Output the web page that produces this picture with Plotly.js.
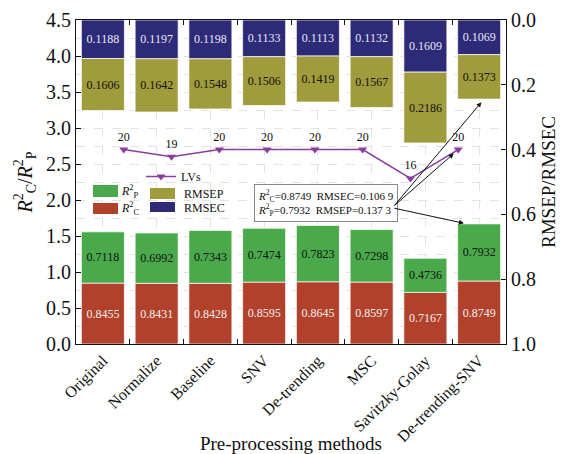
<!DOCTYPE html>
<html><head><meta charset="utf-8">
<script src="https://cdn.plot.ly/plotly-3.0.1.min.js"></script>
<style>html,body{margin:0;padding:0;background:#fff}#chart{width:564px;height:454px}</style>
</head><body><div id="chart"></div>
<script>
const methods = ['Original','Normalize','Baseline','SNV','De-trending','MSC','Savitzky-Golay','De-trending-SNV'];
const r2c = [0.8455,0.8431,0.8428,0.8595,0.8645,0.8597,0.7167,0.8749];
const r2p = [0.7118,0.6992,0.7343,0.7474,0.7823,0.7298,0.4736,0.7932];
const rmsec = [0.1188,0.1197,0.1198,0.1133,0.1113,0.1132,0.1609,0.1069];
const rmsep = [0.1606,0.1642,0.1548,0.1506,0.1419,0.1567,0.2186,0.1373];
const lvs = [20,19,20,20,20,20,16,20];

const FONT = 'Liberation Serif, Times New Roman, serif';
const C_RED = '#b1412b', C_GREEN = '#4aa94b', C_NAVY = '#2d2a78', C_OLIVE = '#a09b3c', C_PURPLE = '#8c3c9e';
const fmt = v => v.toFixed(4);
const edge = {color: 'rgba(255,255,255,0.7)', width: 1};

const traces = [
  {type:'bar', x: methods, y: r2c, xaxis:'x', yaxis:'y', marker:{color:C_RED, line:edge},
   text: r2c.map(fmt), textposition:'inside', insidetextanchor:'middle', textangle:0,
   textfont:{family:FONT, size:12, color:'#f4f0ee'}, showlegend:false, hoverinfo:'skip'},
  {type:'bar', x: methods, y: r2p, base: r2c, xaxis:'x', yaxis:'y', marker:{color:C_GREEN, line:edge},
   text: r2p.map(fmt), textposition:'inside', insidetextanchor:'middle', textangle:0,
   textfont:{family:FONT, size:12, color:'#111'}, showlegend:false, hoverinfo:'skip'},
  {type:'bar', x: methods, y: rmsec, base: rmsec.map(()=>0), xaxis:'x3', yaxis:'y2', marker:{color:C_NAVY, line:edge},
   text: rmsec.map(fmt), textposition:'inside', insidetextanchor:'middle', textangle:0,
   textfont:{family:FONT, size:12, color:'#e8e8f0'}, showlegend:false, hoverinfo:'skip'},
  {type:'bar', x: methods, y: rmsep, base: rmsec, xaxis:'x3', yaxis:'y2', marker:{color:C_OLIVE, line:edge},
   text: rmsep.map(fmt), textposition:'inside', insidetextanchor:'middle', textangle:0,
   textfont:{family:FONT, size:12, color:'#111'}, showlegend:false, hoverinfo:'skip'},
  {type:'scatter', x: lvs.map((_,i)=>i+1), y: lvs, xaxis:'x2', yaxis:'y3', name:'LVs',
   mode:'lines+markers+text', text: lvs.map(String), textposition:'top center',
   textfont:{family:FONT, size:12, color:'#111'},
   line:{color:C_PURPLE, width:1.5}, marker:{symbol:'triangle-down', size:8, color:C_PURPLE},
   showlegend:true, hoverinfo:'skip'}
];

const last = methods.length - 1;
const px2x = p => (p-76)/430, px2y = p => (344-p)/324;
const swatches = [
  {c:C_GREEN, x0:93, x1:118, y0:185, y1:197},
  {c:C_RED, x0:93, x1:118, y0:203, y1:214},
  {c:C_OLIVE, x0:150, x1:175, y0:188, y1:199},
  {c:C_NAVY, x0:150, x1:175, y0:202, y1:212}
];
const shapes = swatches.map(s => ({type:'rect', xref:'paper', yref:'paper',
  x0:px2x(s.x0), x1:px2x(s.x1), y0:px2y(s.y1), y1:px2y(s.y0), fillcolor:s.c, line:{width:0}}));

const legTxt = (t, px, py) => ({xref:'paper', yref:'paper', x:px2x(px), y:px2y(py), xanchor:'left', yanchor:'middle',
  text:t, showarrow:false, font:{family:FONT, size:12, color:'#111'}});

const annotations = [
  legTxt('<i>R</i><sup>2</sup><sub>P</sub>', 119, 191),
  legTxt('<i>R</i><sup>2</sup><sub>C</sub>', 119, 209),
  legTxt('RMSEP', 182, 194),
  legTxt('RMSEC', 182, 208),
  {xref:'paper', yref:'paper', x:px2x(326), y:px2y(203), xanchor:'center', yanchor:'middle', showarrow:false,
   text:'<i>R</i><sup>2</sup><sub>C</sub>=' + fmt(r2c[last]) + '&nbsp; RMSEC=0.106 9<br><i>R</i><sup>2</sup><sub>P</sub>=' + fmt(r2p[last]) + '&nbsp; RMSEP=0.137 3',
   align:'left', font:{family:FONT, size:11, color:'#111'}, bgcolor:'#fff', bordercolor:'#888', borderwidth:1, borderpad:3},
  {xref:'x2', yref:'y3', x: last+1, y: lvs[last], ax:-65, ay:57, showarrow:true, text:'',
   arrowhead:2, arrowsize:1, arrowwidth:1, arrowcolor:'#111', standoff:6},
  {xref:'x2', yref:'y2', x: 8.54, y: rmsec[last]+rmsep[last], ax:-91, ay:108, showarrow:true, text:'',
   arrowhead:2, arrowsize:1, arrowwidth:1, arrowcolor:'#111', standoff:4},
  {xref:'x2', yref:'y', x: 8.18, y: r2c[last]+r2p[last], ax:-74, ay:-16, showarrow:true, text:'',
   arrowhead:2, arrowsize:1, arrowwidth:1, arrowcolor:'#111', standoff:3}
];

const gridC = '#e3e3e3';
const layout = {
  width:564, height:454, margin:{l:76, r:58, t:20, b:110},
  paper_bgcolor:'#fff', plot_bgcolor:'#fff',
  font:{family:FONT, color:'#111'},
  barmode:'overlay', bargap:0.2,
  xaxis:{type:'category', categoryarray:methods, range:[-0.5, methods.length-0.5],
    showgrid:true, gridcolor:gridC, griddash:'dash', gridwidth:1, ticks:'', showline:true, linecolor:'#111', linewidth:1,
    mirror:true, tickangle:-45, tickfont:{family:FONT, size:16}, zeroline:false,
    title:{text:'Pre-processing methods', font:{family:FONT, size:19}, standoff:4}},
  xaxis2:{overlaying:'x', range:[0,9], visible:false},
  xaxis3:{overlaying:'x', type:'category', categoryarray:methods, range:[-0.5, methods.length-0.5],
    tickson:'boundaries', ticks:'inside', ticklen:5, tickcolor:'#111', showticklabels:false,
    showgrid:false, showline:false, mirror:'ticks', zeroline:false},
  yaxis:{range:[0,4.5], dtick:0.5, tickformat:'.1f', ticks:'inside', ticklen:5, tickcolor:'#111',
    showline:true, linecolor:'#111', linewidth:1, zeroline:false,
    showgrid:true, gridcolor:gridC, griddash:'dash',
    minor:{dtick:0.25, showgrid:true, gridcolor:gridC, griddash:'dash', ticks:''},
    tickfont:{family:FONT, size:20},
    title:{text:'<i>R</i><sup>2</sup><sub>C</sub>/<i>R</i><sup>2</sup><sub>P</sub>', font:{family:FONT, size:20}, standoff:8}},
  yaxis2:{overlaying:'y', side:'right', range:[1,0], dtick:0.2, tickformat:'.1f', ticks:'inside', ticklen:5, tickcolor:'#111',
    showline:true, linecolor:'#111', linewidth:1, showgrid:false, zeroline:false,
    tickfont:{family:FONT, size:20},
    title:{text:'RMSEP/RMSEC', font:{family:FONT, size:19}, standoff:6}},
  yaxis3:{overlaying:'y', range:[-7,38], visible:false},
  legend:{x:px2x(141), y:px2y(162), xanchor:'left', yanchor:'top', bgcolor:'rgba(0,0,0,0)',
    font:{family:FONT, size:12}, itemwidth:30},
  shapes: shapes,
  annotations: annotations
};

Plotly.newPlot('chart', traces, layout, {displayModeBar:false, staticPlot:true});
</script>
</body></html>
